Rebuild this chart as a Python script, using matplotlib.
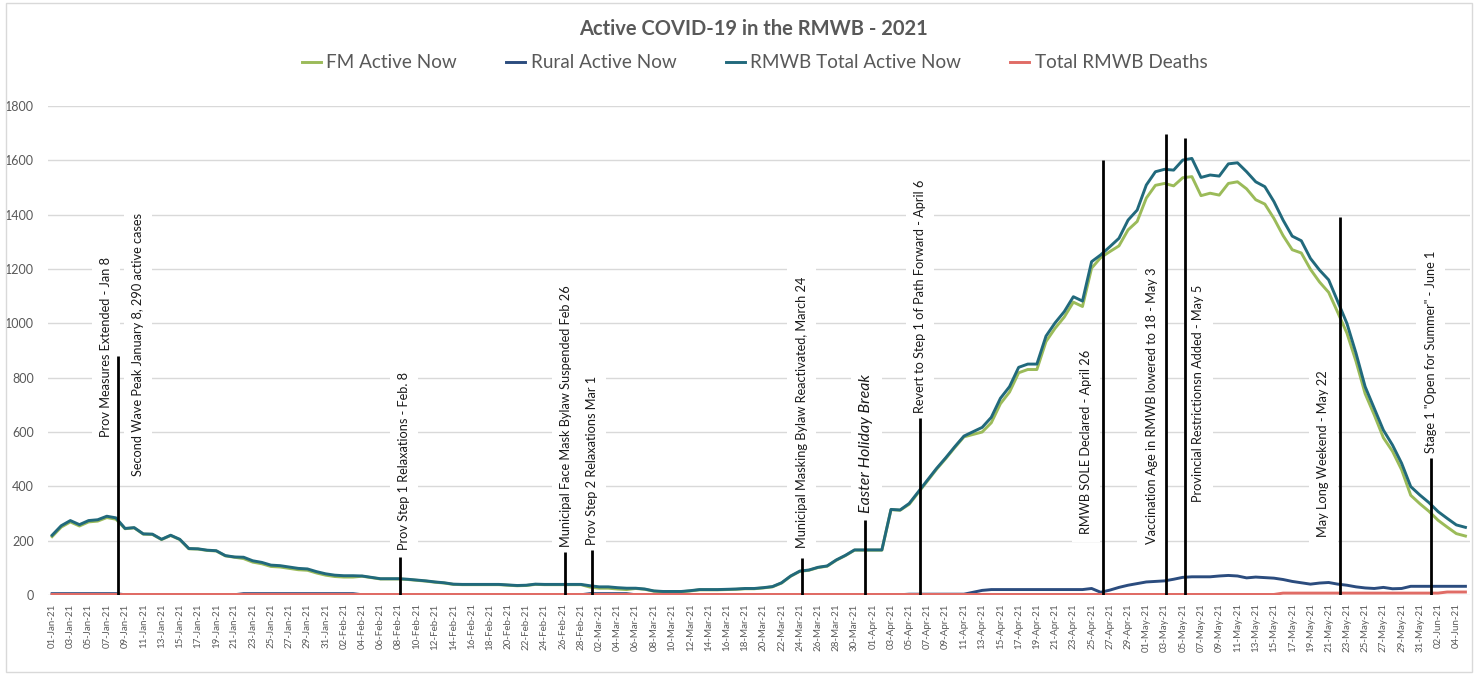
import matplotlib
matplotlib.use("Agg")
import matplotlib.pyplot as plt
import pandas as pd
from matplotlib.patches import Rectangle

# ---------------- data ----------------
start_date = "2021-01-01"

total_active = [
    220, 255, 274, 259, 274, 277, 290, 284, 245, 248,
    225, 224, 205, 220, 205, 171, 170, 165, 163, 145,
    140, 139, 126, 120, 110, 108, 103, 98, 96, 86,
    78, 73, 71, 71, 70, 65, 60, 60, 60, 58,
    55, 52, 48, 45, 40, 39, 39, 39, 39, 39,
    37, 35, 36, 40, 39, 39, 39, 39, 39, 34,
    30, 30, 27, 25, 25, 22, 15, 13, 13, 13,
    16, 20, 20, 20, 21, 22, 24, 24, 27, 31,
    45, 70, 88, 92, 102, 107, 129, 146, 166, 166,
    166, 166, 315, 313, 337, 380, 423, 466, 505, 546,
    585, 601, 617, 654, 724, 767, 838, 850, 850, 953,
    1002, 1043, 1098, 1082, 1227, 1252, 1282, 1313, 1380, 1417,
    1509, 1558, 1567, 1564, 1601, 1607, 1537, 1546, 1542, 1587,
    1591, 1558, 1521, 1503, 1448, 1380, 1321, 1304, 1239, 1196,
    1160, 1080, 1000, 890, 767, 687, 607, 552, 485, 399,
    368, 340, 307, 282, 258, 249,
]

fm_active = [
    215, 250, 269, 254, 269, 272, 285, 279, 244, 247,
    224, 223, 204, 219, 204, 170, 169, 164, 162, 144,
    139, 134, 121, 115, 105, 103, 98, 93, 91, 81,
    73, 68, 66, 66, 69, 64, 59, 59, 59, 57,
    54, 51, 47, 44, 39, 38, 38, 38, 38, 38,
    36, 34, 35, 39, 38, 38, 38, 38, 38, 29,
    25, 25, 22, 20, 24, 21, 14, 12, 12, 12,
    15, 19, 19, 19, 20, 21, 23, 23, 26, 30,
    44, 69, 87, 91, 101, 106, 128, 145, 165, 165,
    165, 165, 314, 312, 334, 377, 420, 463, 502, 543,
    582, 591, 600, 634, 704, 747, 818, 830, 830, 933,
    982, 1023, 1078, 1062, 1203, 1242, 1264, 1285, 1344, 1375,
    1461, 1508, 1515, 1506, 1536, 1540, 1470, 1479, 1472, 1515,
    1521, 1495, 1455, 1439, 1386, 1323, 1271, 1259, 1199, 1152,
    1114, 1040, 964, 860, 741, 663, 579, 529, 461, 367,
    336, 308, 275, 250, 226, 217,
]

rural_active = [
    5, 5, 5, 5, 5, 5, 5, 5, 1, 1,
    1, 1, 1, 1, 1, 1, 1, 1, 1, 1,
    1, 5, 5, 5, 5, 5, 5, 5, 5, 5,
    5, 5, 5, 5, 1, 1, 1, 1, 1, 1,
    1, 1, 1, 1, 1, 1, 1, 1, 1, 1,
    1, 1, 1, 1, 1, 1, 1, 1, 1, 5,
    5, 5, 5, 5, 1, 1, 1, 1, 1, 1,
    1, 1, 1, 1, 1, 1, 1, 1, 1, 1,
    1, 1, 1, 1, 1, 1, 1, 1, 1, 1,
    1, 1, 1, 1, 3, 3, 3, 3, 3, 3,
    3, 10, 17, 20, 20, 20, 20, 20, 20, 20,
    20, 20, 20, 20, 24, 10, 18, 28, 36, 42,
    48, 50, 52, 58, 65, 67, 67, 67, 70, 72,
    70, 63, 66, 64, 62, 57, 50, 45, 40, 44,
    46, 40, 36, 30, 26, 24, 28, 23, 24, 32,
    32, 32, 32, 32, 32, 32,
]

total_deaths = [
    2, 2, 2, 2, 2, 2, 2, 2, 2, 2,
    2, 2, 2, 2, 2, 2, 2, 2, 2, 2,
    2, 2, 2, 2, 2, 2, 2, 2, 2, 2,
    2, 2, 2, 2, 2, 2, 2, 2, 2, 2,
    2, 2, 2, 2, 2, 2, 2, 2, 2, 2,
    2, 2, 2, 2, 2, 2, 2, 2, 2, 2,
    2, 2, 2, 2, 2, 2, 2, 2, 2, 2,
    2, 2, 2, 2, 2, 2, 2, 2, 2, 2,
    2, 2, 2, 2, 2, 2, 2, 2, 2, 2,
    2, 2, 2, 2, 2, 2, 2, 2, 2, 2,
    2, 2, 2, 2, 2, 2, 2, 2, 2, 2,
    2, 2, 2, 2, 2, 2, 2, 2, 2, 2,
    2, 2, 2, 2, 2, 2, 2, 2, 2, 2,
    2, 2, 2, 2, 2, 7, 7, 7, 7, 7,
    7, 7, 7, 7, 7, 7, 7, 7, 7, 7,
    7, 7, 7, 11, 11, 11,
]

series_names = ["FM Active Now", "Rural Active Now", "RMWB Total Active Now", "Total RMWB Deaths"]

# event markers: date, height of marker line
event_dates = ["2021-01-08", "2021-02-08", "2021-02-26", "2021-03-01", "2021-03-24",
               "2021-03-31", "2021-04-06", "2021-04-26", "2021-05-03", "2021-05-05",
               "2021-05-22", "2021-06-01"]
event_tops = [880, 140, 158, 166, 136, 276, 651, 1601, 1696, 1683, 1390, 503]

# annotation texts (event index they belong to)
annot_texts = [
    "Prov Measures Extended - Jan 8",
    "Second Wave Peak January 8, 290 active cases",
    "Prov Step 1 Relaxations - Feb. 8",
    "Municipal Face Mask Bylaw Suspended Feb 26",
    "Prov Step 2 Relaxations Mar 1",
    "Municipal Masking Bylaw Reactivated, March 24",
    "Easter Holiday Break",
    "Revert to Step 1 of Path Forward - April 6",
    "RMWB SOLE Declared - April 26",
    "Vaccination Age in RMWB lowered to 18 - May 3",
    "Provincial Restrictionsn Added - May 5",
    "May Long Weekend - May 22",
    'Stage 1 "Open for Summer" - June 1',
]
annot_event = [0, 0, 1, 2, 3, 4, 5, 6, 7, 8, 9, 10, 11]

# ---------------- layout (positions / styles) ----------------
annot_dx = [-1.3, 2.2, 0.4, 0.15, 0.0, 0.0, 0.1, 0.0, -1.8, -1.6, 1.5, -1.8, 0.0]
annot_bottom = [582, 438, 166, 178, 184, 173, 303, 671, 225, 188, 343, 212, 524]

FONT = ["Lato", "DejaVu Sans"]
plt.rcParams["font.family"] = FONT

colors = ["#9BBB59", "#2B4C7E", "#21697C", "#E06C66"]
GRAY = "#595959"

dates = pd.date_range(start_date, periods=len(total_active), freq="D")
x = list(range(len(dates)))
date_index = {d.strftime("%Y-%m-%d"): i for i, d in enumerate(dates)}

fig = plt.figure(figsize=(14.74, 6.75), dpi=100)
ax = fig.add_axes([48 / 1474, 1 - 595 / 675, (1470 - 48) / 1474, (595 - 106) / 675])

series = [fm_active, rural_active, total_active, total_deaths]
for vals, name, c in zip(series, series_names, colors):
    ax.plot(x, vals, color=c, lw=2.1, label=name, zorder=4, solid_joinstyle="round")

# event lines
for d, top in zip(event_dates, event_tops):
    xi = date_index[d] + 0.2
    ax.plot([xi, xi], [0, top], color="black", lw=2.0, zorder=5, solid_capstyle="butt")

# annotations
for txt, ev, dx, yb in zip(annot_texts, annot_event, annot_dx, annot_bottom):
    xi = date_index[event_dates[ev]] + 0.2 + dx
    italic = txt.startswith("Easter")
    ax.text(xi, yb, txt, rotation=90, ha="center", va="bottom",
            fontsize=11.5 if italic else 9.2, style="italic" if italic else "normal",
            color="#1a1a1a", zorder=3,
            bbox=dict(facecolor="white", edgecolor="none", pad=6))

ax.set_ylim(0, 1800)
ax.set_xlim(-0.45, len(x) - 0.5)
ax.set_yticks(range(0, 1801, 200))
ax.grid(axis="y", color="#D9D9D9", lw=1.0, zorder=0)
ax.set_axisbelow(True)
for s in ax.spines.values():
    s.set_visible(False)
ax.tick_params(axis="y", length=0, pad=10, labelsize=9, labelcolor=GRAY)
ax.set_xticks(x[::2])
ax.set_xticklabels([d.strftime("%d-%b-%y") for d in dates[::2]], rotation=90,
                   fontsize=7, color=GRAY)
ax.tick_params(axis="x", length=0, pad=6)

fig.text(0.511, 0.957, "Active COVID-19 in the RMWB - 2021", ha="center", va="center",
         fontsize=14.5, fontweight="bold", color=GRAY)

leg = fig.legend(loc="center", bbox_to_anchor=(0.512, 0.907), ncol=4, frameon=False,
                 fontsize=13.6, handlelength=1.0, handletextpad=0.3, columnspacing=2.6)
for t in leg.get_texts():
    t.set_color(GRAY)

fig.patches.append(Rectangle((6 / 1474, 3 / 675), 1 - 8 / 1474, 1 - 6 / 675,
                             transform=fig.transFigure, fill=False,
                             edgecolor="#D9D9D9", lw=1.0))

fig.savefig("out.png", dpi=100)
